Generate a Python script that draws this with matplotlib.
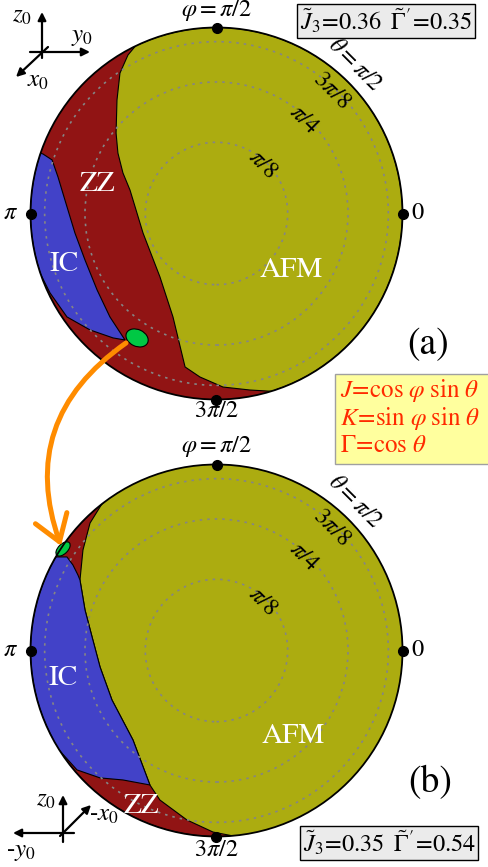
import numpy as np
import matplotlib
matplotlib.use("Agg")
import matplotlib.pyplot as plt
from matplotlib.patches import Polygon, Circle, Ellipse, Rectangle, FancyArrowPatch

plt.rcParams['font.family'] = 'STIXGeneral'
plt.rcParams['mathtext.fontset'] = 'stix'

# phase boundaries, in (J, K) = (cos phi sin theta, sin phi sin theta) of each disc
afm_edge_a = [(-0.422, 0.917), (-0.476, 0.852), (-0.519, 0.755), (-0.535, 0.610),
              (-0.540, 0.433), (-0.530, 0.325), (-0.503, 0.218), (-0.465, 0.126),
              (-0.395, -0.105), (-0.304, -0.341), (-0.234, -0.556), (-0.169, -0.825),
              (-0.089, -0.879), (0.035, -0.933), (0.180, -0.949), (0.315, -0.957)]
ic_right_a = [(-0.933, 0.320), (-0.884, 0.288), (-0.852, 0.196), (-0.815, 0.073),
              (-0.761, -0.105), (-0.707, -0.250), (-0.642, -0.411), (-0.573, -0.556),
              (-0.492, -0.680)]
ic_low_a = [(-0.556, -0.669), (-0.680, -0.626), (-0.804, -0.556), (-0.895, -0.427),
            (-0.949, -0.320)]
green_a = (-0.427, -0.669)

zz_edge_b = [(-0.610, 0.798), (-0.680, 0.685), (-0.718, 0.540), (-0.734, 0.379),
             (-0.707, 0.218), (-0.669, 0.073), (-0.626, -0.089), (-0.562, -0.266),
             (-0.449, -0.481), (-0.358, -0.723), (-0.304, -0.804), (-0.159, -0.911),
             (-0.019, -0.976), (0.089, -0.997)]
ic_top_b = [(-0.863, 0.503), (-0.804, 0.503), (-0.772, 0.460), (-0.745, 0.406)]
ic_low_b = [(-0.503, -0.696), (-0.626, -0.685), (-0.750, -0.642), (-0.895, -0.481)]
green_b = (-0.825, 0.546)

phi_marks = [0, np.pi / 2, np.pi, 3 * np.pi / 2]
phi_labels = [r'$0$', r'$\varphi=\pi/2$', r'$\pi$', r'$3\pi/2$']
theta_rings = [np.pi / 8, np.pi / 4, 3 * np.pi / 8, np.pi / 2]
theta_labels = [r'$\pi/8$', r'$\pi/4$', r'$3\pi/8$', r'$\theta=\pi/2$']
params_a = (0.36, 0.35)
params_b = (0.35, 0.54)

ZZ = '#911414'
AFM = '#acac10'
IC = '#4242c8'
GREEN = '#00c844'

R = 186.0          # pixels per unit
CX, CY = 216.5, 213.5
DY_B = -437.0 / R  # second disc sits below the first


def px(x, y):
    return ((x - CX) / R, (CY - y) / R)


def arc(p0, p1, ccw):
    a0 = np.arctan2(p0[1], p0[0])
    a1 = np.arctan2(p1[1], p1[0])
    if ccw and a1 < a0:
        a1 += 2 * np.pi
    if not ccw and a1 > a0:
        a1 -= 2 * np.pi
    t = np.linspace(a0, a1, 150)
    return np.column_stack([np.cos(t), np.sin(t)])


def shift(pts, dy):
    a = np.array(pts, dtype=float)
    a[:, 1] += dy
    return a


fig = plt.figure(figsize=(4.89, 8.67), dpi=100)
ax = fig.add_axes([0, 0, 1, 1])
ax.set_xlim(-CX / R, (489 - CX) / R)
ax.set_ylim(-(867 - CY) / R, CY / R)
ax.axis('off')


def draw_disc(dy, base, regions, green, green_size, label_r):
    disc = Circle((0, dy), 1, fc=base, ec='none', zorder=1)
    ax.add_patch(disc)
    for pts, col in regions:
        p = Polygon(shift(pts, dy), closed=True, fc=col, ec='black', lw=0.8, zorder=2)
        p.set_clip_path(disc)
        ax.add_patch(p)
    ax.add_patch(Ellipse((green[0], green[1] + dy), green_size[0], green_size[1],
                         angle=green_size[2], fc=GREEN, ec='black', lw=0.8, zorder=4))
    for th in theta_rings[:-1]:
        ax.add_patch(Circle((0, dy), np.sin(th), fill=False, ec='#858585', lw=1.2,
                            ls=(0, (1.5, 3)), zorder=3))
    ax.add_patch(Circle((0, dy), 1, fill=False, ec='black', lw=1.3, zorder=5))
    ax.plot(np.cos(phi_marks), np.sin(phi_marks) + dy, 'o', color='black', ms=7,
            zorder=6, clip_on=False)
    for ph, lab, r in zip(phi_marks, phi_labels, label_r):
        ax.text(r * np.cos(ph), r * np.sin(ph) + dy, lab, fontsize=17.5,
                ha='center', va='center')
    ang = np.radians(47)
    for th, lab in zip(theta_rings, theta_labels):
        r = np.sin(th) - 0.02 if th < np.pi / 2 else 1.09
        ax.text(r * np.cos(ang), r * np.sin(ang) + dy, lab, fontsize=17,
                ha='center', va='center', rotation=-45, rotation_mode='anchor')


# disc (a): ZZ background, AFM and IC on top
afm_a = np.vstack([afm_edge_a, arc(afm_edge_a[-1], afm_edge_a[0], True)])
ic_a = np.vstack([ic_right_a, ic_low_a, arc(ic_low_a[-1], ic_right_a[0], False)])
draw_disc(0.0, ZZ, [(afm_a, AFM), (ic_a, IC)], green_a, (0.125, 0.09, -25),
          [1.085, 1.09, 1.11, 1.065])

# disc (b): AFM background, ZZ and IC on the left
zz_b = np.vstack([arc(zz_edge_b[0], zz_edge_b[-1], True), zz_edge_b[::-1]])
ic_b = np.vstack([ic_top_b, zz_edge_b[3:10], ic_low_b, arc(ic_low_b[-1], ic_top_b[0], False)])
draw_disc(DY_B, AFM, [(zz_b, ZZ), (ic_b, IC)], green_b, (0.095, 0.052, 45),
          [1.08, 1.095, 1.11, 1.075])

# phase names
lab_kw = dict(color='white', fontsize=21, ha='center', va='center', zorder=7)
ax.text(*px(98, 184), 'ZZ', **lab_kw)
ax.text(*px(64, 264), 'IC', **lab_kw)
ax.text(*px(291, 270), 'AFM', **lab_kw)
ax.text(*px(63, 678), 'IC', **lab_kw)
ax.text(*px(293, 736), 'AFM', **lab_kw)
ax.text(*px(142, 806), 'ZZ', **lab_kw)

# panel letters
ax.text(*px(428, 345), '(a)', fontsize=27, ha='center', va='center')
ax.text(*px(430, 783), '(b)', fontsize=27, ha='center', va='center')

# parameter boxes
box_kw = dict(boxstyle='square,pad=0.12', fc='#ebebeb', ec='black', lw=1)
ax.text(*px(386, 21), r'$\tilde{J}_3\!=\!%.2f\;\;\tilde{\Gamma}^{\prime}\!=\!%.2f$' % params_a,
        fontsize=17.5, ha='center', va='center', bbox=box_kw)
ax.text(*px(389, 843), r'$\tilde{J}_3\!=\!%.2f\;\;\tilde{\Gamma}^{\prime}\!=\!%.2f$' % params_b,
        fontsize=17.5, ha='center', va='center', bbox=box_kw)

# definition box
x0, y0 = px(335, 464)
x1, y1 = px(495, 374)
ax.add_patch(Rectangle((x0, y0), x1 - x0, y1 - y0, fc='#ffff9e', ec='#a0a0a0', lw=1, zorder=1))
for yy, s in zip([390, 418, 446], [r'$J\!=\!\cos\,\varphi\;\sin\,\theta$',
                                   r'$K\!=\!\sin\,\varphi\;\sin\,\theta$',
                                   r'$\Gamma\!=\!\cos\,\theta$']):
    ax.text(*px(340, yy), s, fontsize=18, color='#ff2a00', ha='left', va='center')

# orange arrow linking the two green pockets
arr = FancyArrowPatch(px(126, 343), px(61, 546), connectionstyle='arc3,rad=0.38',
                      arrowstyle='->,head_length=0.9,head_width=0.6', mutation_scale=20,
                      color='#ff8c00', lw=3.6, shrinkA=0, shrinkB=0, zorder=8)
ax.add_patch(arr)

# coordinate triads
tri_kw = dict(arrowstyle='-|>', color='black', lw=1.6, mutation_scale=12, shrinkA=0, shrinkB=0)
for a, b in [((42, 58), (42, 12)), ((30, 52), (90, 52)), ((48, 47), (16, 77)),
             ((63, 842), (63, 795)), ((74, 833), (13, 833)), ((60, 836), (91, 805))]:
    ax.annotate('', xy=px(*b), xytext=px(*a), arrowprops=tri_kw)
ax.text(*px(22, 16), r'$z_0$', fontsize=18, ha='center', va='center')
ax.text(*px(82, 36), r'$y_0$', fontsize=18, ha='center', va='center')
ax.text(*px(38, 81), r'$x_0$', fontsize=18, ha='center', va='center')
ax.text(*px(46, 800), r'$z_0$', fontsize=18, ha='center', va='center')
ax.text(*px(104, 815), r'-$x_0$', fontsize=18, ha='center', va='center')
ax.text(*px(21, 851), r'-$y_0$', fontsize=18, ha='center', va='center')

fig.savefig('out.png', dpi=100)
